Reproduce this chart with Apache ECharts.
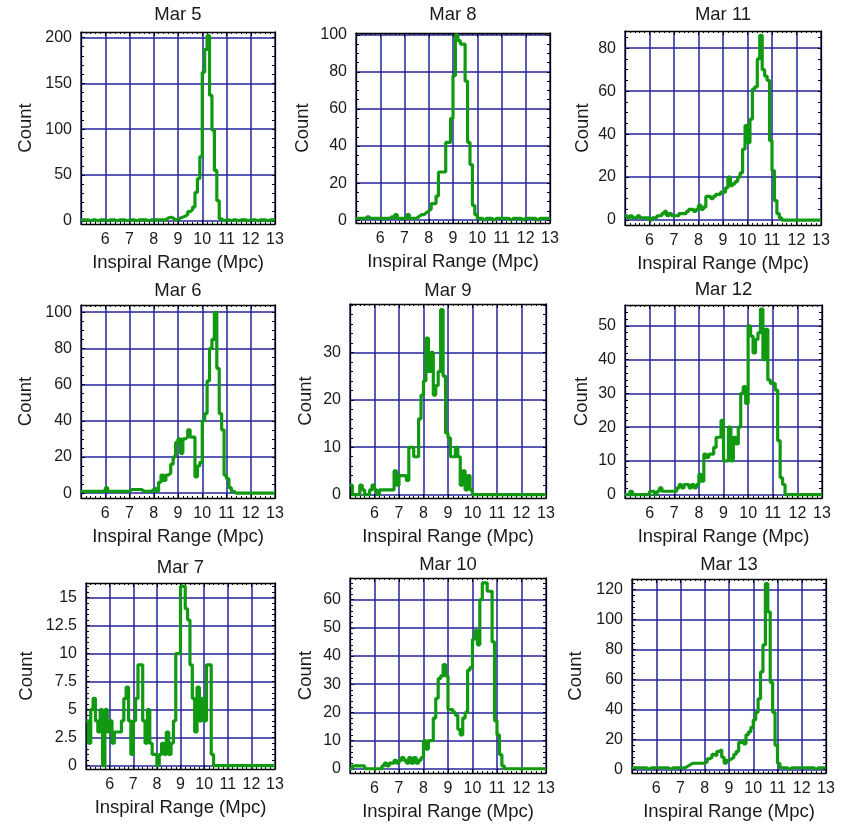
<!DOCTYPE html>
<html><head><meta charset="utf-8">
<script src="https://cdn.jsdelivr.net/npm/echarts@6/dist/echarts.min.js"></script>
<style>html,body{margin:0;padding:0;background:#fff}#c{width:846px;height:827px}</style>
</head><body><div id="c"></div>
<script>
// ---- data ----
const xAxisName = 'Inspiral Range (Mpc)';
const yAxisName = 'Count';
const xTickLabels = [6, 7, 8, 9, 10, 11, 12, 13];
// histogram bins of 0.1 Mpc from 5.0 to 13.0
const binEdges = [];
for (let i = 0; i <= 80; i++) binEdges.push(+(5 + i * 0.1).toFixed(1));

const mar5 = [1,1,1,0,1,1,0,1,1,1, 0,1,1,1,0,1,1,1,0,1, 1,1,0,1,1,1,1,0,1,1, 1,1,1,1,1,3,4,3,1,1,
  3,4,5,7,10,12,15,31,46,70, 162,187,202,137,99,55,22,2,0,1, 1,0,1,1,0,1,1,1,0,1, 1,1,0,1,1,1,0,1,1,1];
const mar8 = [1,1,1,1,2,1,1,1,1,1, 1,1,1,1,2,1,3,1,1,1, 1,3,1,1,1,2,3,3,4,5, 6,9,9,13,26,26,26,42,42,55,
  78,100,97,95,95,75,42,30,8,3, 1,1,0,1,1,1,0,1,1,1, 1,1,1,0,1,1,1,1,0,1, 1,1,1,1,0,1,1,1,1,1];
const mar11 = [2,1,2,1,1,2,1,1,1,1, 0,1,1,2,2,3,4,2,3,2, 2,2,3,3,3,4,5,5,4,5, 7,5,6,11,11,10,11,12,12,13,
  13,15,20,16,17,18,20,22,33,44, 36,47,61,62,75,86,70,67,65,37, 23,9,3,1,0,0,0,0,0,0, 0,0,0,0,0,0,0,0,0,0];
const mar6 = [1,1,1,1,1,1,1,1,1,1, 3,1,1,1,1,1,1,1,1,1, 2,2,2,2,2,1,1,1,1,2, 3,1,6,10,7,10,11,16,20,28,
  30,22,30,31,35,31,31,9,15,17, 40,44,62,80,85,100,69,44,35,10, 8,3,1,0,0,0,0,0,0,0, 0,0,0,0,0,0,0,0,0,0];
const mar9 = [2,0,0,0,2,1,0,0,1,2, 1,0,1,1,1,1,1,1,5,2, 4,4,4,3,10,10,8,8,16,21, 24,33,26,30,21,23,26,39,25,13,
  12,8,8,10,8,2,5,1,4,1, 0,0,0,0,0,0,0,0,0,0, 0,0,0,0,0,0,0,0,0,0, 0,0,0,0,0,0,0,0,0,0];
const mar12 = [0,0,1,0,0,0,0,0,0,0, 1,1,0,1,2,1,1,1,1,1, 1,2,3,2,3,3,2,3,2,3, 6,4,12,11,12,12,14,17,17,22,
  10,10,20,10,17,15,20,30,32,27, 50,47,42,46,48,55,40,49,34,33, 33,31,16,5,3,0,0,0,0,0, 0,0,0,0,0,0,0,0,0,0];
const mar7 = [4,2,5,6,4,3,5,0,5,3, 4,2,3,3,3,4,6,7,4,1, 4,6,9,9,4,2,5,2,1,1, 0,1,2,1,3,1,2,4,10,10,
  16,16,14,13,9,6,3,7,4,6, 4,9,9,1,0,0,0,0,0,0, 0,0,0,0,0,0,0,0,0,0, 0,0,0,0,0,0,0,0,0,0];
const mar10 = [0,1,1,1,1,1,0,0,0,0, 0,0,0,1,2,1,2,2,3,2, 3,4,3,2,4,2,4,2,3,4, 10,7,10,10,18,25,32,33,37,33,
  21,21,20,19,14,12,18,20,35,36, 46,49,44,60,66,66,63,63,45,17, 12,5,1,0,0,0,0,0,0,0, 0,0,0,0,0,0,0,0,0,0];
const mar13 = [1,1,1,1,1,1,0,1,1,1, 1,1,1,1,1,0,1,1,1,1, 1,1,2,3,4,4,4,4,4,4, 5,7,8,10,9,12,13,8,4,6,
  7,8,10,12,18,19,17,23,25,28, 33,38,47,65,83,124,105,58,38,16, 4,1,1,1,0,1,1,1,1,1, 1,1,1,1,1,0,1,1,1,1];

const yTicks5 = [0,50,100,150,200];
const yTicks8 = [0,20,40,60,80,100];
const yTicks11 = [0,20,40,60,80];
const yTicks6 = [0,20,40,60,80,100];
const yTicks9 = [0,10,20,30];
const yTicks12 = [0,10,20,30,40,50];
const yTicks7 = [0,2.5,5,7.5,10,12.5,15];
const yTicks10 = [0,10,20,30,40,50,60];
const yTicks13 = [0,20,40,60,80,100,120];

// ---- layout (pixels) ----
const panels = [
  {title:'Mar 5',  counts:mar5,  ticks:yTicks5,  minor:10,  ymin:-3.5, ymax:206,  l:81,  r:275, t:32,  b:224, nameX:25,  titleY:15},
  {title:'Mar 8',  counts:mar8,  ticks:yTicks8,  minor:5,   ymin:-1.5, ymax:101,  l:356, r:550, t:33,  b:223, nameX:302, titleY:15.5},
  {title:'Mar 11', counts:mar11, ticks:yTicks11, minor:5,   ymin:-2.3, ymax:88,   l:625, r:821, t:31,  b:225, nameX:582, titleY:15},
  {title:'Mar 6',  counts:mar6,  ticks:yTicks6,  minor:5,   ymin:-2.7, ymax:104,  l:81,  r:275, t:305, b:498, nameX:25,  titleY:291},
  {title:'Mar 9',  counts:mar9,  ticks:yTicks9,  minor:2,   ymin:-0.7, ymax:40.2, l:350, r:546, t:304, b:498, nameX:305, titleY:291},
  {title:'Mar 12', counts:mar12, ticks:yTicks12, minor:2,   ymin:-1.0, ymax:56.2, l:625, r:822, t:305, b:498, nameX:581, titleY:290.5},
  {title:'Mar 7',  counts:mar7,  ticks:yTicks7,  minor:0.5, ymin:-0.3, ymax:16.3, l:86,  r:275, t:583, b:769, nameX:26,  titleY:568},
  {title:'Mar 10', counts:mar10, ticks:yTicks10, minor:2,   ymin:-1.5, ymax:67.7, l:350, r:546, t:578, b:773, nameX:305, titleY:565},
  {title:'Mar 13', counts:mar13, ticks:yTicks13, minor:4,   ymin:-2.5, ymax:127,  l:632, r:826, t:579, b:773, nameX:575, titleY:565}
];

const FONT = '"Liberation Sans", Arial, sans-serif';
const GREEN = '#119a11';
const NAVY = '#24249c';
const TXT = '#1a1a1a';

const option = {animation:false, backgroundColor:'#fff', title:[], grid:[], xAxis:[], yAxis:[], series:[]};

panels.forEach((p, k) => {
  option.grid.push({left:p.l, top:p.t, width:p.r - p.l, height:p.b - p.t, show:false});
  option.title.push({text:p.title, left:(p.l + p.r) / 2, top:p.titleY - 10, textAlign:'center', padding:0,
    textStyle:{fontFamily:FONT, fontSize:18.5, fontWeight:'normal', color:TXT}});
  const minorVals = [];
  for (let v = 0; v <= p.ymax + 1e-9; v = +(v + p.minor).toFixed(4)) minorVals.push(v);

  // bottom x axis
  option.xAxis.push({type:'value', gridIndex:k, position:'bottom', min:5, max:13, interval:1,
    axisLine:{show:true, onZero:false, lineStyle:{color:'#000', width:1.3}},
    axisTick:{show:true, inside:true, length:4, lineStyle:{color:'#000'}},
    minorTick:{show:true, splitNumber:5, length:2, lineStyle:{color:'#000'}},
    axisLabel:{show:true, margin:8, fontFamily:FONT, fontSize:16, color:TXT,
      formatter: v => (xTickLabels.indexOf(v) >= 0 ? String(v) : '')},
    splitLine:{show:true, lineStyle:{color:NAVY, width:1.5}},
    name:xAxisName, nameLocation:'middle', nameGap:29,
    nameTextStyle:{fontFamily:FONT, fontSize:18.5, color:TXT}});
  // top x axis (frame)
  option.xAxis.push({type:'value', gridIndex:k, position:'top', min:5, max:13, interval:1,
    axisLine:{show:true, onZero:false, lineStyle:{color:'#000', width:1.3}},
    axisTick:{show:true, inside:true, length:4, lineStyle:{color:'#000'}},
    minorTick:{show:true, splitNumber:5, length:2, lineStyle:{color:'#000'}},
    axisLabel:{show:false}, splitLine:{show:false}});
  // left y axis: labels + grid lines
  option.yAxis.push({type:'value', gridIndex:k, position:'left', min:p.ymin, max:p.ymax,
    axisLine:{show:true, onZero:false, lineStyle:{color:'#000', width:1.3}},
    axisTick:{show:true, inside:true, length:4, customValues:p.ticks, lineStyle:{color:'#000'}},
    axisLabel:{show:true, customValues:p.ticks, margin:9, fontFamily:FONT, fontSize:16, color:TXT},
    splitLine:{show:true, lineStyle:{color:NAVY, width:1.5}},
    name:yAxisName, nameLocation:'middle', nameGap:(p.l - p.nameX) - 10, nameRotate:90,
    nameTextStyle:{fontFamily:FONT, fontSize:18.5, color:TXT}});
  // left minor ticks
  option.yAxis.push({type:'value', gridIndex:k, position:'left', min:p.ymin, max:p.ymax,
    axisLine:{show:false, onZero:false},
    axisTick:{show:true, inside:true, length:3, customValues:minorVals, lineStyle:{color:'#000'}},
    axisLabel:{show:false}, splitLine:{show:false}});
  // right frame with minor ticks
  option.yAxis.push({type:'value', gridIndex:k, position:'right', min:p.ymin, max:p.ymax,
    axisLine:{show:true, onZero:false, lineStyle:{color:'#000', width:1.3}},
    axisTick:{show:true, inside:true, length:3, customValues:minorVals, lineStyle:{color:'#000'}},
    axisLabel:{show:false}, splitLine:{show:false}});

  const data = binEdges.map((x, i) => [x, p.counts[Math.min(i, p.counts.length - 1)]]);
  option.series.push({type:'line', xAxisIndex:2 * k, yAxisIndex:3 * k, data, step:'end',
    symbol:'none', clip:true, lineStyle:{color:GREEN, width:3.2}, z:5});
});

const chart = echarts.init(document.getElementById('c'), null, {renderer:'canvas'});
chart.setOption(option);
</script>
</body></html>
